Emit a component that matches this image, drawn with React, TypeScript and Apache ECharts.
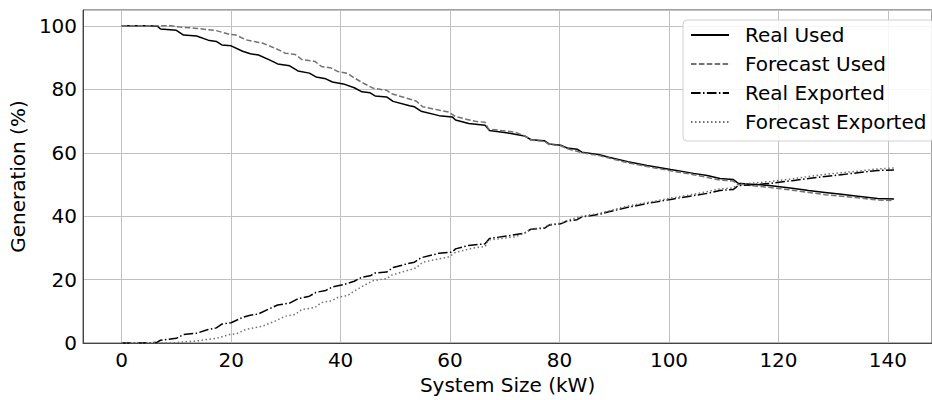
import React, { useEffect, useRef } from "react";
import * as echarts from "echarts";

// Real measurements: system size (kW), used (%) and exported (%)
const realX = [0, 5, 6.5, 7.1, 10, 11.3, 13.7, 15.8, 17.3, 18.3, 20, 22.1, 23.5, 25, 27.1, 28.5, 30.7, 32.2, 34.3, 35.5, 37.3, 38.5, 40.5, 42.5, 43.9, 45.4, 46.3, 48.4, 49.6, 52.6, 53.5, 54.7, 58, 60.4, 61, 63.4, 66.4, 67.2, 70.6, 73.6, 74.8, 77.2, 78.1, 80.2, 81.4, 83.2, 84.1, 87.3, 89, 92.5, 96, 100.3, 104.5, 107, 109.3, 111.7, 112.6, 115, 118.3, 122.5, 125.5, 128.5, 131.5, 134.5, 138.1, 141.1];
const realUsed = [100, 100, 99.9, 99.0, 98.6, 97.1, 96.8, 95.5, 95.1, 94.0, 93.7, 92.0, 91.2, 90.8, 89.2, 88.0, 87.4, 85.8, 85.1, 83.9, 83.3, 82.3, 81.7, 80.5, 79.2, 78.9, 77.9, 77.6, 76.2, 74.8, 74.5, 73.1, 71.7, 71.3, 70.3, 69.2, 68.7, 67.0, 66.2, 65.3, 64.1, 63.8, 62.8, 62.4, 61.5, 61.1, 60.2, 59.4, 58.6, 57.2, 56.0, 54.7, 53.5, 52.8, 51.9, 51.6, 50.4, 50.1, 49.7, 48.8, 48.1, 47.5, 46.9, 46.3, 45.6, 45.4];
const realExported = [0, 0.1, 0.3, 0.9, 1.5, 2.7, 3.1, 4.3, 4.8, 6.0, 6.4, 8.1, 8.8, 9.2, 10.9, 12.0, 12.6, 14.0, 14.8, 16.0, 16.6, 17.7, 18.4, 19.5, 20.8, 21.2, 22.1, 22.4, 23.8, 25.2, 25.5, 26.9, 28.3, 28.7, 29.7, 30.8, 31.3, 33.0, 33.8, 34.7, 35.9, 36.2, 37.2, 37.6, 38.5, 38.9, 39.8, 40.6, 41.4, 42.8, 44.0, 45.3, 46.5, 47.2, 48.1, 48.4, 49.6, 49.9, 50.3, 51.2, 51.9, 52.5, 53.1, 53.7, 54.4, 54.6];

// Forecast: system size (kW), used (%) and exported (%)
const forecastX = [0, 9, 10.8, 13.8, 17.3, 19.7, 20.9, 22.7, 25.7, 28.1, 29.9, 31.7, 32.9, 35.3, 36.5, 38.3, 39.5, 41.3, 42.4, 44.2, 46, 48.4, 49.3, 53.8, 55, 59.8, 61, 64.6, 66.4, 67, 71.8, 73.6, 74.8, 77.2, 78.1, 80.2, 81.4, 84.1, 87.3, 92.5, 100.3, 104.5, 109.3, 111.7, 112.6, 118.3, 122.5, 128.5, 134.5, 138.1, 141.1];
const forecastUsed = [100, 100, 99.6, 99.2, 98.5, 97.3, 97.1, 95.6, 94.6, 92.9, 91.4, 91.0, 89.4, 88.8, 87.2, 86.7, 85.6, 85.0, 83.7, 81.9, 80.3, 79.7, 78.6, 76.3, 74.5, 72.8, 71.4, 69.9, 69.6, 67.5, 66.5, 65.4, 64.0, 63.6, 62.6, 62.2, 61.3, 60.0, 59.1, 56.8, 54.3, 53.1, 51.4, 51.1, 50.0, 49.1, 48.2, 46.8, 45.8, 45.1, 44.9];
const forecastExported = [0, 0, 0.3, 0.7, 1.5, 2.7, 2.9, 4.3, 5.3, 7.0, 8.5, 9.0, 10.6, 11.2, 12.8, 13.3, 14.4, 15.0, 16.3, 18.1, 19.7, 20.3, 21.4, 23.7, 25.5, 27.2, 28.6, 30.1, 30.4, 32.5, 33.5, 34.6, 36.0, 36.4, 37.4, 37.8, 38.7, 40.0, 40.9, 43.2, 45.7, 46.9, 48.6, 48.9, 50.0, 50.9, 51.8, 53.2, 54.2, 54.9, 55.2];

const seriesNames = ["Real Used", "Forecast Used", "Real Exported", "Forecast Exported"];
const xAxisTitle = "System Size (kW)";
const yAxisTitle = "Generation (%)";

const FONT = "DejaVu Sans";

function pairs(xs: number[], ys: number[]) {
  return xs.map((x, i) => [x, ys[i]]);
}

export default function App() {
  const ref = useRef<HTMLDivElement>(null);
  useEffect(() => {
    if (!ref.current) return;
    const chart = echarts.init(ref.current, undefined, { renderer: "svg" });
    const grey = "#727272";
    const mkLine = (name: string, data: number[][], color: string, dash: any) => ({
      name,
      type: "line",
      data,
      symbol: "none",
      showSymbol: false,
      lineStyle: { color, width: 1.5, type: dash },
      itemStyle: { color },
      z: 3,
    });
    chart.setOption({
      animation: false,
      backgroundColor: "#ffffff",
      textStyle: { fontFamily: FONT },
      grid: {
        left: 79,
        top: 10,
        bottom: 53,
        right: -10,
        show: true,
        borderColor: "#444",
        borderWidth: 1,
        backgroundColor: "transparent",
      },
      legend: {
        orient: "vertical",
        left: 683,
        top: 20,
        data: seriesNames,
        itemWidth: 38,
        itemHeight: 20,
        itemGap: 9,
        padding: [5, 7, 9, 7],
        itemStyle: { opacity: 0, borderWidth: 0 },
        backgroundColor: "rgba(255,255,255,0.85)",
        borderColor: "#d0d0d0",
        borderWidth: 1,
        borderRadius: 4,
        textStyle: {
          fontFamily: FONT,
          fontSize: 20,
          color: "#000",
          padding: [0, 0, 0, 11],
          lineHeight: 20,
        },
        z: 10,
      },
      xAxis: {
        type: "value",
        min: -7.05,
        max: 148.05,
        splitNumber: 8,
        name: xAxisTitle,
        nameLocation: "middle",
        nameGap: 25,
        nameTextStyle: { fontFamily: FONT, fontSize: 20, color: "#000" },
        axisLine: { show: true, onZero: false, lineStyle: { color: "#444", width: 1 } },
        axisTick: { show: false },
        axisLabel: {
          fontFamily: FONT,
          fontSize: 20,
          color: "#000",
          margin: 7,
          showMinLabel: false,
          showMaxLabel: false,
        },
        splitLine: { show: true, lineStyle: { color: "#c0c0c0", width: 1 } },
      },
      yAxis: {
        type: "value",
        min: 0,
        max: 105,
        interval: 20,
        name: yAxisTitle,
        nameLocation: "middle",
        nameGap: 44,
        nameTextStyle: { fontFamily: FONT, fontSize: 20, color: "#000" },
        axisLine: { show: true, onZero: false, lineStyle: { color: "#444", width: 1 } },
        axisTick: { show: false },
        axisLabel: {
          fontFamily: FONT,
          fontSize: 20,
          color: "#000",
          margin: 6,
          showMaxLabel: false,
        },
        splitLine: { show: true, lineStyle: { color: "#c0c0c0", width: 1 } },
      },
      series: [
        mkLine(seriesNames[0], pairs(realX, realUsed), "#000000", "solid"),
        mkLine(seriesNames[1], pairs(forecastX, forecastUsed), grey, [5.5, 2.4]),
        mkLine(seriesNames[2], pairs(realX, realExported), "#000000", [9.6, 2.4, 1.5, 2.4]),
        mkLine(seriesNames[3], pairs(forecastX, forecastExported), grey, [1.5, 2.5]),
      ],
    });
    return () => chart.dispose();
  }, []);
  return (
    <div
      ref={ref}
      style={{ position: "fixed", left: 0, top: 0, width: 932, height: 400, background: "#fff" }}
    />
  );
}
